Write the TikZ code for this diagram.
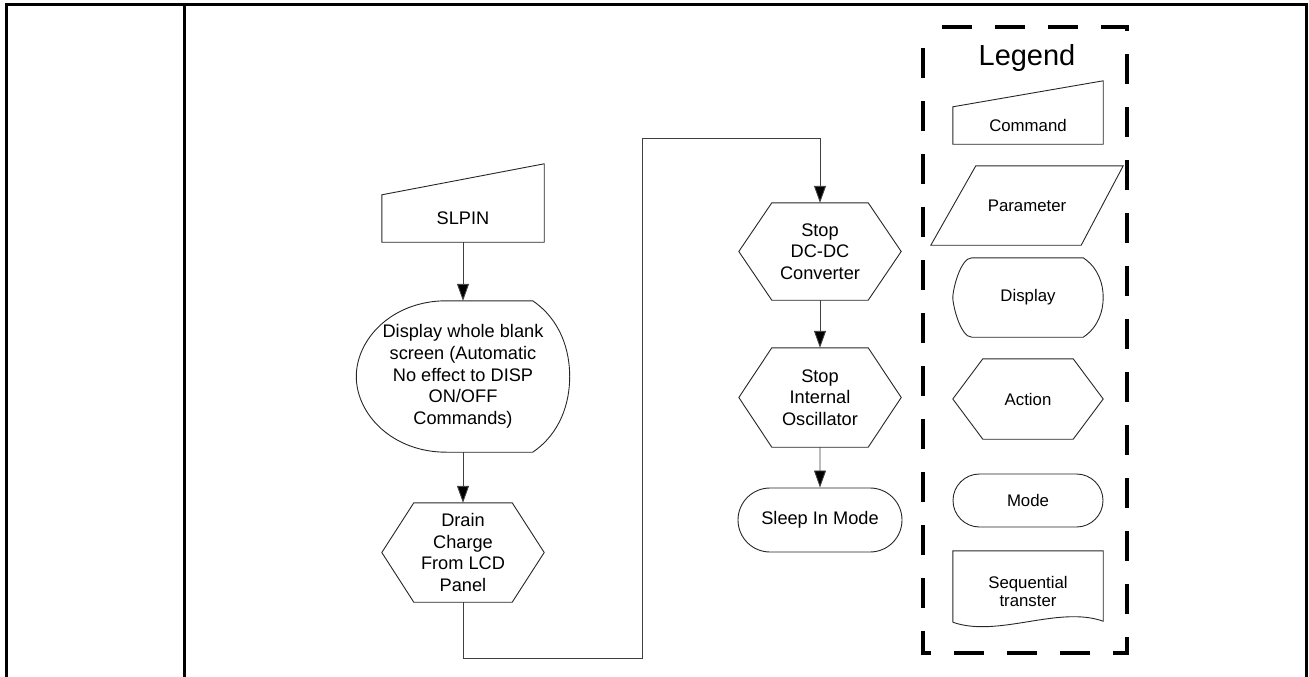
\documentclass[tikz,border=0pt]{standalone}
\usepackage{fontspec}
\setmainfont{Liberation Sans}
\usepackage{tikz}
\usetikzlibrary{arrows.meta,positioning,calc,shapes.misc}

\begin{document}
\begin{tikzpicture}[
    x=1pt, y=-1pt,
    every node/.style={align=center, inner sep=0pt, font=\fontsize{18.2}{21.7}\selectfont},
    hexbox/.style={minimum width=162pt, minimum height=99pt},
    legendtext/.style={font=\fontsize{16.8}{18}\selectfont},
    outline/.style={draw=black!85, line width=0.9pt},
    arrowline/.style={draw=black!75, line width=0.9pt, -{Triangle[length=17pt,width=12pt,fill=black]}},
    tableline/.style={line width=3pt},
    legendbox/.style={line width=4pt, dash pattern=on 30pt off 23pt, dash phase=34pt}
]
\useasboundingbox (0,0) rectangle (1309,677);
\draw[tableline] (6,677) -- (6,5) -- (1306,5) -- (1306,677);
\draw[tableline] (184,5) -- (184,677);

\node[minimum width=162pt, minimum height=47pt] (slpin) at (463,218.5) {SLPIN};
\node[minimum width=213pt, minimum height=151pt] (disp) at (463,376.5) {Display whole blank\\screen (Automatic\\No effect to DISP\\ON/OFF\\Commands)};
\node[hexbox] (drain) at (463,552.5) {Drain\\Charge\\From LCD\\Panel};
\node[hexbox, minimum height=97pt] (dcdc) at (820,251.5) {Stop\\DC-DC\\Converter};
\node[hexbox] (osc) at (820,397.5) {Stop\\Internal\\Oscillator};
\node[rounded rectangle, outline, minimum width=164pt, minimum height=64pt] (sleep) at (820,520) {Sleep In Mode};

\node[font=\fontsize{29}{32}\selectfont] (legend) at (1027,58) {Legend};
\node[legendtext, minimum width=150pt, minimum height=37pt] (lcmd) at (1028,125.5) {Command};
\node[legendtext, minimum width=192pt, minimum height=79pt] (lpar) at (1027,205.5) {Parameter};
\node[legendtext, minimum width=150pt, minimum height=79pt] (ldisp) at (1028,297.5) {Display};
\node[legendtext, hexbox, minimum width=150pt, minimum height=80pt] (lact) at (1028,399) {Action};
\node[legendtext, rounded rectangle, outline, minimum width=150pt, minimum height=53pt] (lmode) at (1028,500.5) {Mode};
\node[legendtext, minimum width=150pt, minimum height=80pt] (lseq) at (1028,591) {Sequential\\transter};

\foreach \n/\r in {slpin/31, lcmd/26}
    \draw[outline] (\n.south west) -- (\n.south east) -- ($(\n.north east)+(0,-\r)$) -- (\n.north west) -- cycle;
\foreach \n/\d in {drain/32, dcdc/33, osc/33, lact/30}
    \draw[outline] (\n.west) -- ($(\n.north west)+(\d,0)$) -- ($(\n.north east)+(-\d,0)$) -- (\n.east)
        -- ($(\n.south east)+(-\d,0)$) -- ($(\n.south west)+(\d,0)$) -- cycle;
\foreach \n/\L/\R/\H/\k in {disp/90/37/75.5/0.5, ldisp/19/20/39.5/0.2}
    \draw[outline] ($(\n.north west)+(\L,0)$) -- ($(\n.north east)+(-\R,0)$)
        .. controls +(0.75*\R,0.25*\H) and +(0,-0.35*\H) .. (\n.east)
        .. controls +(0,0.35*\H) and +(0.75*\R,-0.25*\H) .. ($(\n.south east)+(-\R,0)$)
        -- ($(\n.south west)+(\L,0)$)
        .. controls +(-0.6*\L,0) and +(0,\k*\H) .. (\n.west)
        .. controls +(0,-\k*\H) and +(-0.6*\L,0) .. ($(\n.north west)+(\L,0)$) -- cycle;
\draw[outline] (lpar.south west) -- ($(lpar.north west)+(45,0)$) -- (lpar.north east) -- ($(lpar.south east)+(-42,0)$) -- cycle;
\draw[outline] ($(lseq.south west)+(0,-9)$) -- (lseq.north west) -- (lseq.north east) -- ($(lseq.south east)+(0,-10)$)
    .. controls +(-45,-16) and +(45,16) .. ($(lseq.south west)+(0,-9)$);

\draw[arrowline] (slpin) -- (disp);
\draw[arrowline] (disp) -- (drain);
\coordinate (bendlow) at (642,658);
\coordinate (bendhigh) at (642,138);
\draw[arrowline] (drain) |- (bendlow) -- (bendhigh) -| (dcdc);
\draw[arrowline] (dcdc) -- (osc);
\draw[arrowline] (osc) -- (sleep);

\draw[legendbox] (923,27) -- (1127,27) -- (1127,653) -- (923,653) -- cycle;
\end{tikzpicture}
\end{document}
